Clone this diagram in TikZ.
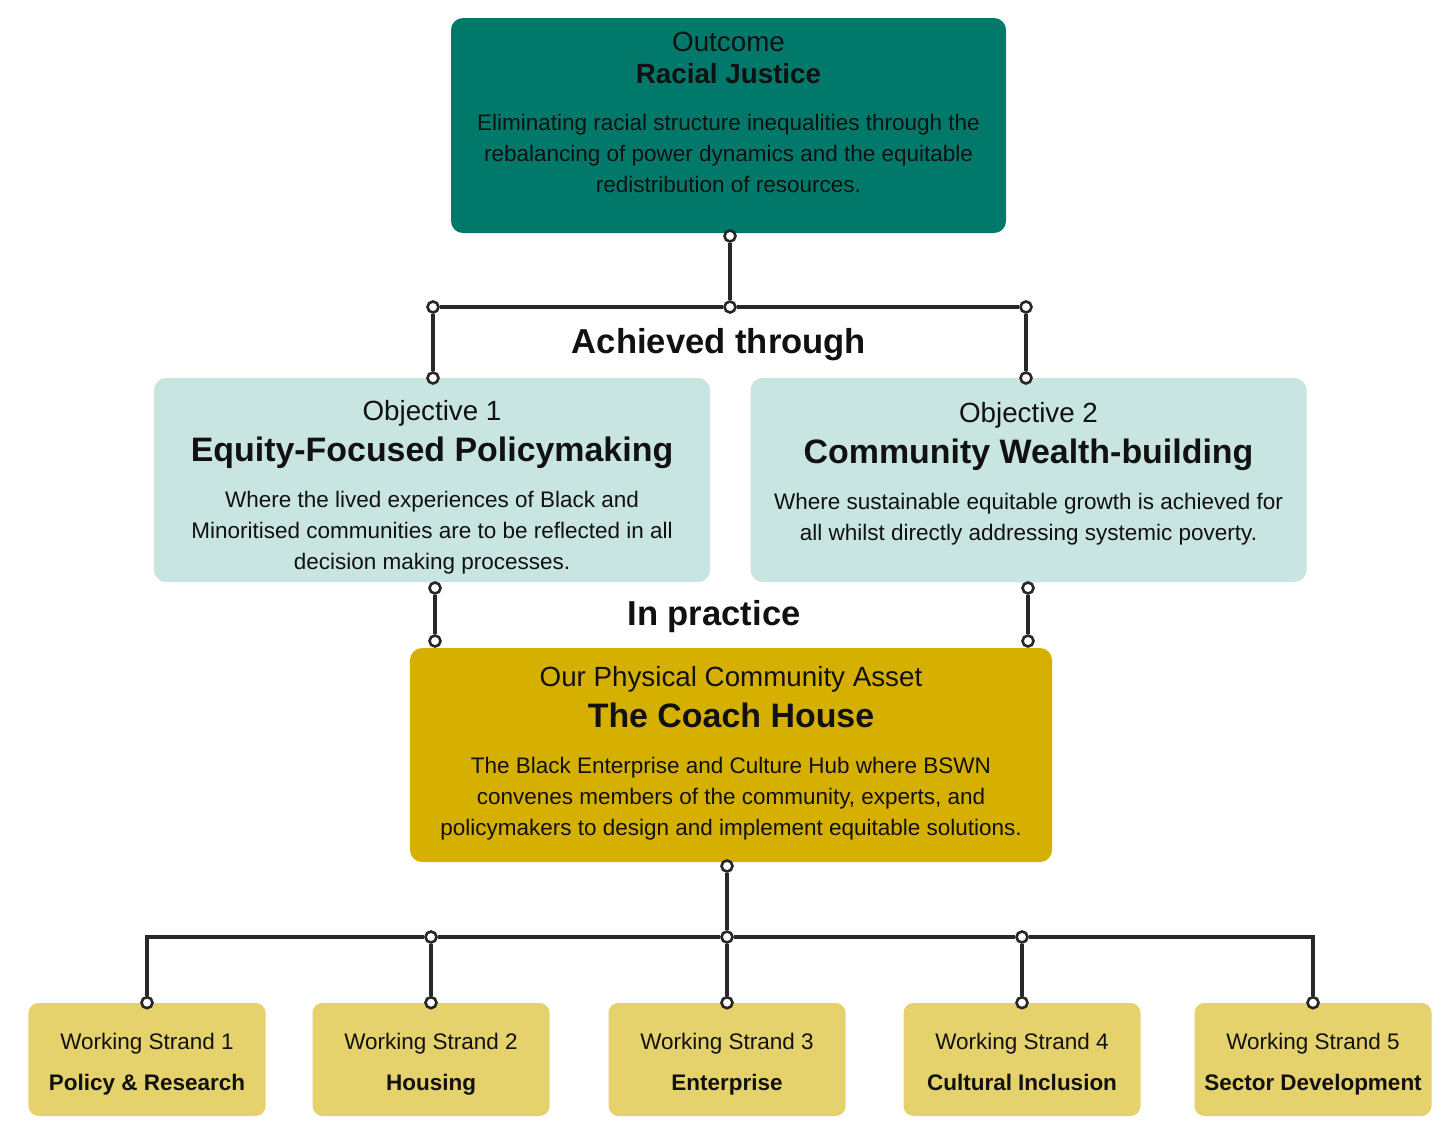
\documentclass[tikz,border=0pt]{standalone}
\usepackage{fontspec}
\setmainfont{Liberation Sans}
\usetikzlibrary{positioning}

\definecolor{outteal}{RGB}{0,121,107}
\definecolor{objmint}{RGB}{201,229,225}
\definecolor{hubgold}{RGB}{214,176,0}
\definecolor{strandgold}{RGB}{229,210,108}
\definecolor{linkgrey}{RGB}{40,40,40}
\definecolor{inkdark}{RGB}{17,17,17}

\newcommand\headsize{\fontsize{15.8}{19}\selectfont}
\newcommand\titlesize{\fontsize{19.3}{23}\selectfont\bfseries}
\newcommand\bodysize{\fontsize{12.8}{17.7}\selectfont}
\newcommand\linksize{\fontsize{19.7}{24}\selectfont\bfseries}

\tikzset{
  boxbase/.style={rounded corners=2.4mm, inner sep=0pt},
  outcomebox/.style={boxbase, fill=outteal, minimum width=111mm, minimum height=43mm},
  objbox/.style={boxbase, fill=objmint, minimum width=111.2mm, minimum height=40.8mm},
  assetbox/.style={boxbase, fill=hubgold, minimum width=128.4mm, minimum height=42.8mm},
  strandbox/.style={boxbase, rounded corners=2mm, fill=strandgold, minimum width=47.4mm, minimum height=22.6mm},
  boxtext/.style={align=center, inner sep=0pt, font=\bodysize, text=inkdark},
  joint/.style={circle, draw=linkgrey, fill=white, line width=1.5pt, minimum size=2.2mm, inner sep=0pt},
  link/.style={draw=linkgrey, line width=2.1pt},
  linklabel/.style={font=\linksize, text=inkdark, inner sep=0pt}
}

\begin{document}
\begin{tikzpicture}[x=0.2mm, y=-0.2mm]
  \path[use as bounding box, fill=white] (0,0) rectangle (1445,1124);

  % boxes
  \node[outcomebox] (outcome) at (728.5,125.5) {};
  \node[objbox] (obj1) at (432,480) {};
  \node[objbox] (obj2) at (1028.5,480) {};
  \node[assetbox] (asset) at (731,755) {};

  \node[boxtext, below=2.8mm of outcome.north] (outcome-text)
    {{\headsize Outcome}\\[0.5pt]
     {\headsize\bfseries Racial Justice}\\[9pt]
     Eliminating racial structure inequalities through the\\
     rebalancing of power dynamics and the equitable\\
     redistribution of resources.};
  \node[boxtext, below=4.4mm of obj1.north] (obj1-text)
    {{\headsize Objective 1}\\[5.6pt]
     {\titlesize Equity-Focused Policymaking}\\[8.5pt]
     Where the lived experiences of Black and\\
     Minoritised communities are to be reflected in all\\
     decision making processes.};
  \node[boxtext, below=4.8mm of obj2.north] (obj2-text)
    {{\headsize Objective 2}\\[5.6pt]
     {\titlesize Community Wealth-building}\\[8.5pt]
     Where sustainable equitable growth is achieved for\\
     all whilst directly addressing systemic poverty.};
  \node[boxtext, below=3.6mm of asset.north] (asset-text)
    {{\headsize Our Physical Community Asset}\\[5.6pt]
     {\titlesize The Coach House}\\[8.5pt]
     The Black Enterprise and Culture Hub where BSWN\\
     convenes members of the community, experts, and\\
     policymakers to design and implement equitable solutions.};

  \foreach \i/\x/\lbl in {1/147/{Policy \& Research}, 2/431/Housing, 3/727/Enterprise,
                          4/1022/Cultural Inclusion, 5/1313/Sector Development}{
    \node[strandbox] (strand\i) at (\x,1059.5) {};
    \node[boxtext, below=6mm of strand\i.north] (strand\i-text)
      {Working Strand \i\\[5.6pt] \textbf{\lbl}};
    \node[joint] (strand\i-in) at (strand\i.north) {};
  }

  % joints
  \node[joint] (outcome-out) at (730,236) {};
  \node[joint] (split-mid) at (730,307) {};
  \node[joint] (split-left) at (433,307) {};
  \node[joint] (split-right) at (1026,307) {};
  \node[joint] (obj1-in) at (433,378) {};
  \node[joint] (obj2-in) at (1026,378) {};
  \node[joint] (obj1-out) at (435,588) {};
  \node[joint] (obj2-out) at (1028,588) {};
  \node[joint] (asset-in-l) at (435,641) {};
  \node[joint] (asset-in-r) at (1028,641) {};
  \node[joint] (asset-out) at (727,866) {};
  \node[joint] (fan-2) at (431,937) {};
  \node[joint] (fan-3) at (727,937) {};
  \node[joint] (fan-4) at (1022,937) {};

  % connectors
  \draw[link] (outcome-out) -- (split-mid);
  \draw[link] (split-left) -- (split-mid) -- (split-right);
  \draw[link] (split-left) -- (obj1-in);
  \draw[link] (split-right) -- (obj2-in);
  \draw[link] (obj1-out) -- (asset-in-l);
  \draw[link] (obj2-out) -- (asset-in-r);
  \draw[link] (asset-out) -- (fan-3);
  \draw[link] (strand1-in) |- (fan-2) -- (fan-3) -- (fan-4) -| (strand5-in);
  \foreach \i in {2,3,4}
    \draw[link] (fan-\i) -- (strand\i-in);

  \node[linklabel] (achieved) at (719,345) {Achieved through};
  \node[linklabel] (practice) at (714,617) {In practice};
\end{tikzpicture}
\end{document}
